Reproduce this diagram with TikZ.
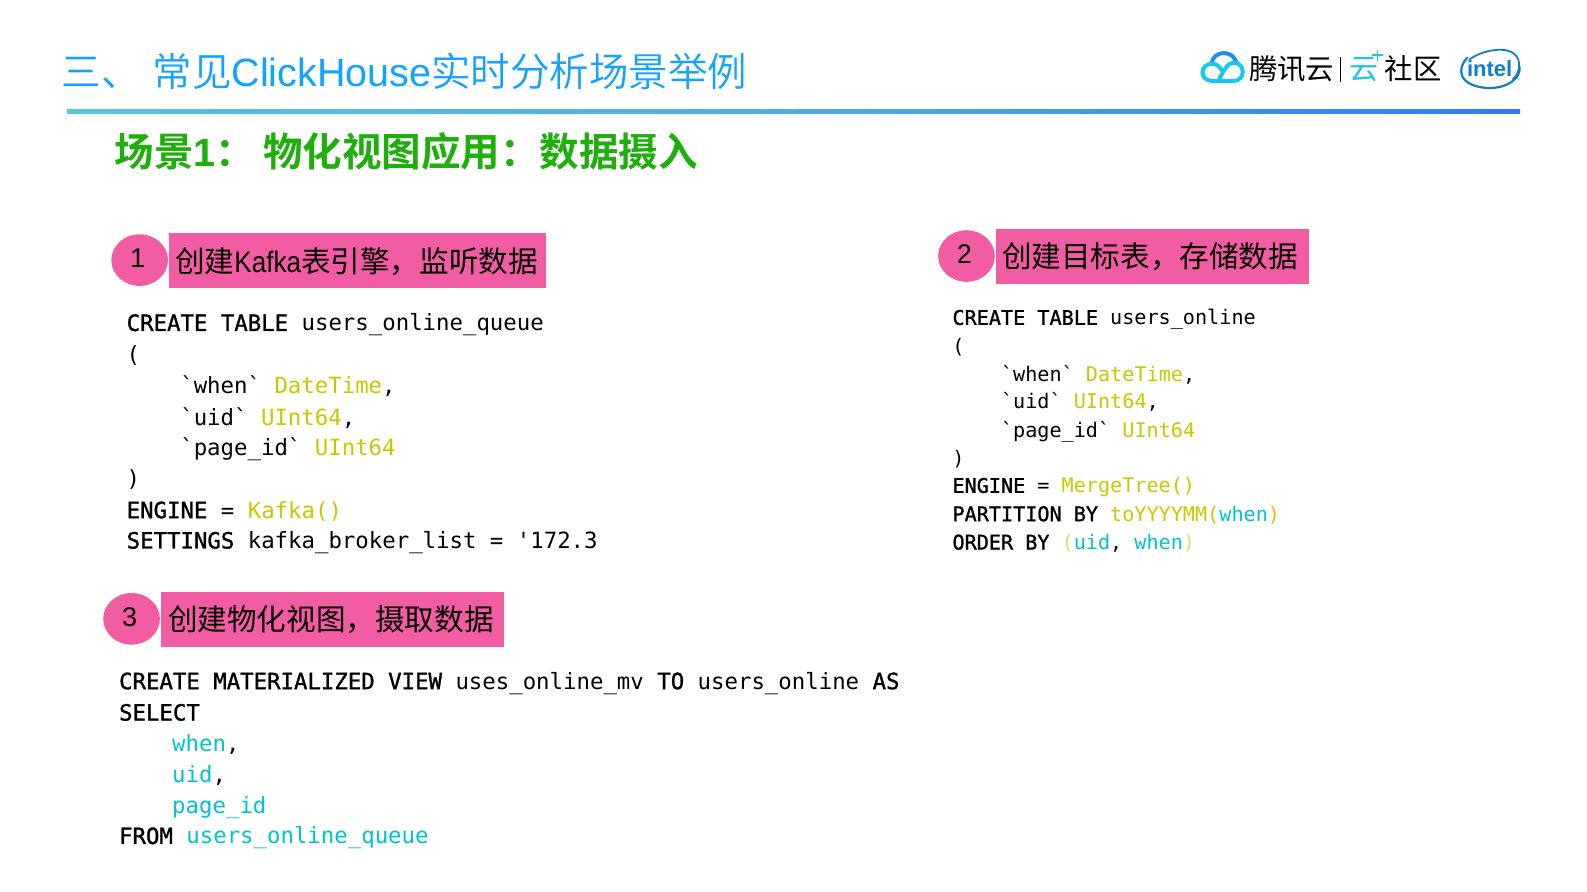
\documentclass[tikz,border=0pt]{standalone}
\usepackage{fontspec}
\setmainfont{Noto Sans CJK SC}
\newfontfamily\cjkb{Noto Sans CJK SC Bold}
\newfontfamily\cjkl{Noto Sans CJK SC DemiLight}
\newfontfamily\code{DejaVu Sans Mono}
\newfontfamily\codek[FakeBold=1.2]{DejaVu Sans Mono}
\newfontfamily\lat{Liberation Sans}
\newfontfamily\latn[FakeStretch=0.88]{Liberation Sans}
\newfontfamily\latb{Liberation Sans Bold}
\definecolor{titleblue}{HTML}{12A2FF}
\definecolor{sceneg}{HTML}{1FAF0C}
\definecolor{pinkc}{HTML}{F25CA2}
\definecolor{yel}{HTML}{C9C800}
\definecolor{tealc}{HTML}{00C4CC}
\definecolor{cloudb}{HTML}{1E8FF0}
\definecolor{cloudc}{HTML}{19C8E8}
\definecolor{intelb}{HTML}{0E7FC8}
\definecolor{barl}{HTML}{5BC5D8}
\definecolor{barm}{HTML}{4FADE0}
\definecolor{barr}{HTML}{2F7BEE}
\newcommand{\K}[1]{{\codek #1}}
\newcommand{\Y}[1]{\textcolor{yel}{#1}}
\newcommand{\T}[1]{\textcolor{tealc}{#1}}
\tikzset{
 x=1.012pt,y=-1.012pt,
 lineA/.style={anchor=base west,inner sep=0pt,yshift=-1pt,font=\code\fontsize{22.35}{24}\selectfont},
 lineB/.style={anchor=base west,inner sep=0pt,yshift=-1pt,font=\code\fontsize{20.15}{22}\selectfont},
 pinkbox/.style={fill=pinkc,draw=none},
 pinkdot/.style={fill=pinkc,draw=none},
 boxtext/.style={anchor=base west,inner sep=0pt,yshift=-0.8pt,font=\fontsize{29.6}{32}\selectfont,text=black},
 numtext/.style={anchor=center,inner sep=0pt,font=\lat\fontsize{27}{28}\selectfont,text=black},
}
\begin{document}
\begin{tikzpicture}
\useasboundingbox (0,0) rectangle (1568.2,881.4);
\fill[white] (0,0) rectangle (1568.2,881.4);
% title
\node[anchor=base west,inner sep=0pt,text=titleblue,font=\cjkl\fontsize{39.5}{44}\selectfont] (title) at (61,85) {三、};
\node[anchor=base west,inner sep=0pt,text=titleblue,font=\cjkl\fontsize{39.5}{44}\selectfont] (titleb) at (150.5,85) {常见{\lat ClickHouse}实时分析场景举例};
\shade[left color=barl,right color=barm] (66,107.8) rectangle (784,112.6);
\shade[left color=barm,right color=barr] (784,107.8) rectangle (1502,112.6);
\node[anchor=base west,inner sep=0pt,text=sceneg,font=\cjkb\fontsize{39.5}{40}\selectfont] (scene) at (113,165) {场景{\latb 1}：};
\node[anchor=base west,inner sep=0pt,text=sceneg,font=\cjkb\fontsize{39.5}{40}\selectfont] (sceneb) at (260,165) {物化视图应用：数据摄入};
% logo: cloud
\begin{scope}[line width=4pt,line cap=round]
\draw[cloudb] (1197,63) .. controls (1199,49) and (1219,49) .. (1222,62.5);
\draw[cloudc] (1205,77.5) .. controls (1210,69) and (1213,62) .. (1219,62)
   .. controls (1231,62) and (1231,80) .. (1219,80) -- (1198,80)
   .. controls (1185,80) and (1185,63) .. (1198,63)
   .. controls (1202,63) and (1205,66) .. (1208,70);
\end{scope}
\node[anchor=base west,inner sep=0pt,text=black,font=\fontsize{28.4}{32}\selectfont] (tx) at (1234,79) {腾讯云};
\draw[black,line width=1pt] (1325,56) -- (1325,81);
\node[anchor=base west,inner sep=0pt,text=cloudc,font=\fontsize{29}{32}\selectfont] (yun) at (1333,79) {云};
\draw[cloudc,line width=1.5pt] (1361,49) -- (1361,60) (1355.5,54.5) -- (1366.5,54.5);
\node[anchor=base west,inner sep=0pt,text=black,font=\fontsize{28.4}{32}\selectfont] (sq) at (1368,79) {社区};
% logo: intel
\draw[intelb,line width=2.2pt,line cap=round] (1450,57) .. controls (1439,68) and (1441,85) .. (1470,87) .. controls (1490,87.5) and (1503,77) .. (1501.5,66);
\draw[intelb,line width=1.8pt,line cap=round] (1452,59) .. controls (1462,50) and (1498,41) .. (1501,62) .. controls (1502,69) and (1499,75) .. (1495,78);
\node[anchor=base,inner sep=0pt,text=intelb,font=\latb\fontsize{22}{24}\selectfont] (intel) at (1472,76) {intel};
% step 1
\fill[pinkdot] (138,257) ellipse [x radius=28,y radius=25.5];
\node[numtext] (n1) at (136,255) {1};
\fill[pinkbox] (167,230) rectangle (540,284.5);
\node[boxtext] (h1) at (173,268) {创建{\latn Kafka}表引擎，监听数据};
\node[lineA] (a1) at (125,326) {\K{CREATE TABLE} users\_online\_queue};
\node[lineA] (a2) at (125,357) {(};
\node[lineA] (a3) at (178,388) {`when` \Y{DateTime},};
\node[lineA] (a4) at (178,419) {`uid` \Y{UInt64},};
\node[lineA] (a5) at (178,449) {`page\_id` \Y{UInt64}};
\node[lineA] (a6) at (125,480) {)};
\node[lineA] (a7) at (125,511) {\K{ENGINE} = \Y{Kafka()}};
\node[lineA] (a8) at (125,541) {\K{SETTINGS} kafka\_broker\_list = '172.3};
% step 2
\fill[pinkdot] (955,253) ellipse [x radius=28,y radius=25.5];
\node[numtext] (n2) at (953,251) {2};
\fill[pinkbox] (984,226) rectangle (1293,280.5);
\node[boxtext] (h2) at (990,264) {创建目标表，存储数据};
\node[lineB] (b1) at (941,320) {\K{CREATE TABLE} users\_online};
\node[lineB] (b2) at (941,348) {(};
\node[lineB] (b3) at (989,376) {`when` \Y{DateTime},};
\node[lineB] (b4) at (989,403) {`uid` \Y{UInt64},};
\node[lineB] (b5) at (989,431) {`page\_id` \Y{UInt64}};
\node[lineB] (b6) at (941,459) {)};
\node[lineB] (b7) at (941,486) {\K{ENGINE} = \Y{MergeTree()}};
\node[lineB] (b8) at (941,514) {\K{PARTITION BY} \Y{toYYYYMM(}\T{when}\Y{)}};
\node[lineB] (b9) at (941,542) {\K{ORDER BY} \textcolor{yel!60}{(}\T{uid}, \T{when}\textcolor{yel!60}{)}};
% step 3
\fill[pinkdot] (130,611.5) ellipse [x radius=28,y radius=25.5];
\node[numtext] (n3) at (128,610) {3};
\fill[pinkbox] (159,585) rectangle (498,639);
\node[boxtext] (h3) at (166,622) {创建物化视图，摄取数据};
\node[lineA] (c1) at (117.5,680) {\K{CREATE MATERIALIZED VIEW} uses\_online\_mv \K{TO} users\_online \K{AS}};
\node[lineA] (c2) at (117.5,711) {\K{SELECT}};
\node[lineA] (c3) at (170,742) {\T{when},};
\node[lineA] (c4) at (170,772) {\T{uid},};
\node[lineA] (c5) at (170,803) {\T{page\_id}};
\node[lineA] (c6) at (117.5,833) {\K{FROM} \T{users\_online\_queue}};
\end{tikzpicture}
\end{document}
